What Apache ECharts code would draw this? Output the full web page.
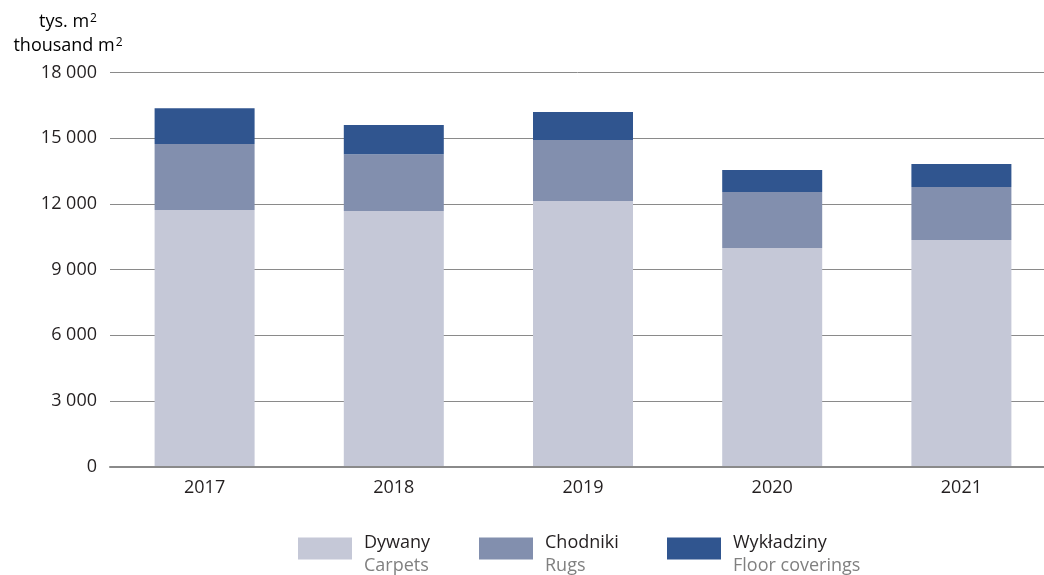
<!DOCTYPE html>
<html>
<head>
<meta charset="utf-8">
<script src="https://cdn.jsdelivr.net/npm/echarts@6/dist/echarts.min.js"></script>
<style>
  html, body { margin: 0; padding: 0; background: #fff; }
  #chart { width: 1044px; height: 575px; }
</style>
</head>
<body>
<div id="chart"></div>
<script>
// Production of carpets, rugs and floor coverings (thousand m²)
const years = ['2017', '2018', '2019', '2020', '2021'];
const carpets = [11720, 11670, 12130, 9980, 10350];
const rugs = [3010, 2600, 2790, 2560, 2420];
const floorCoverings = [1640, 1330, 1280, 1000, 1050];
const yTicks = [0, 3000, 6000, 9000, 12000, 15000, 18000];

const seriesNames = ['Dywany', 'Chodniki', 'Wykładziny'];
const seriesNamesEn = ['Carpets', 'Rugs', 'Floor coverings'];
const colors = ['#c5c8d7', '#828fae', '#30558f'];

const FONT = '"Open Sans", "Noto Sans", sans-serif';
const DARK = '#231f20';
const GREY = '#808080';

const fmt = v => String(v).replace(/\B(?=(\d{3})+(?!\d))/g, ' ');

const chart = echarts.init(document.getElementById('chart'), null, { renderer: 'canvas' });

// one legend per series so each entry sits at its own x position
const legendLefts = [298, 479, 667];
const legends = seriesNames.map((name, i) => ({
  data: [name],
  left: legendLefts[i],
  top: 534,
  padding: 0,
  orient: 'horizontal',
  itemWidth: 54,
  itemHeight: 22,
  icon: 'rect',
  selectedMode: false,
  formatter: n => '{a|' + n + '}\n{b|' + seriesNamesEn[seriesNames.indexOf(n)] + '}',
  textStyle: {
    padding: [12, 0, 0, 7],
    rich: {
      a: { fontFamily: FONT, fontSize: 18, color: DARK, lineHeight: 23 },
      b: { fontFamily: FONT, fontSize: 18, color: GREY, lineHeight: 23 }
    }
  }
}));

chart.setOption({
  animation: false,
  color: colors,
  // plot area runs slightly past the right edge of the canvas
  grid: { left: 110, width: 946, top: 72.5, height: 394, containLabel: false, outerBoundsMode: 'none' },
  legend: legends,
  graphic: [
    {
      type: 'text', x: 68, y: 10,
      style: {
        text: '{m|tys. m}{s|2}', align: 'center',
        rich: {
          m: { fontFamily: FONT, fontSize: 18, color: DARK, lineHeight: 24 },
          s: { fontFamily: FONT, fontSize: 12, color: DARK, lineHeight: 12, verticalAlign: 'top', padding: [3, 0, 0, 1] }
        }
      }
    },
    {
      type: 'text', x: 68, y: 34,
      style: {
        text: '{m|thousand m}{s|2}', align: 'center',
        rich: {
          m: { fontFamily: FONT, fontSize: 18, color: GREY, lineHeight: 24 },
          s: { fontFamily: FONT, fontSize: 12, color: GREY, lineHeight: 12, verticalAlign: 'top', padding: [3, 0, 0, 1] }
        }
      }
    }
  ],
  xAxis: {
    type: 'category',
    data: years,
    axisLine: { show: true, lineStyle: { color: '#8a8a8a', width: 2 } },
    axisTick: { show: false },
    axisLabel: { fontFamily: FONT, fontSize: 18, color: DARK, margin: 12 },
    z: 5
  },
  yAxis: {
    type: 'value',
    min: yTicks[0],
    max: yTicks[yTicks.length - 1],
    interval: yTicks[1] - yTicks[0],
    axisLine: { show: false },
    axisTick: { show: false },
    axisLabel: { fontFamily: FONT, fontSize: 18, color: DARK, margin: 13, formatter: fmt },
    splitLine: { show: true, lineStyle: { color: '#8a8a8a', width: 1 } }
  },
  series: [
    { name: seriesNames[0], type: 'bar', stack: 'total', barWidth: 100, data: carpets },
    { name: seriesNames[1], type: 'bar', stack: 'total', barWidth: 100, data: rugs },
    { name: seriesNames[2], type: 'bar', stack: 'total', barWidth: 100, data: floorCoverings }
  ]
});
</script>
</body>
</html>
